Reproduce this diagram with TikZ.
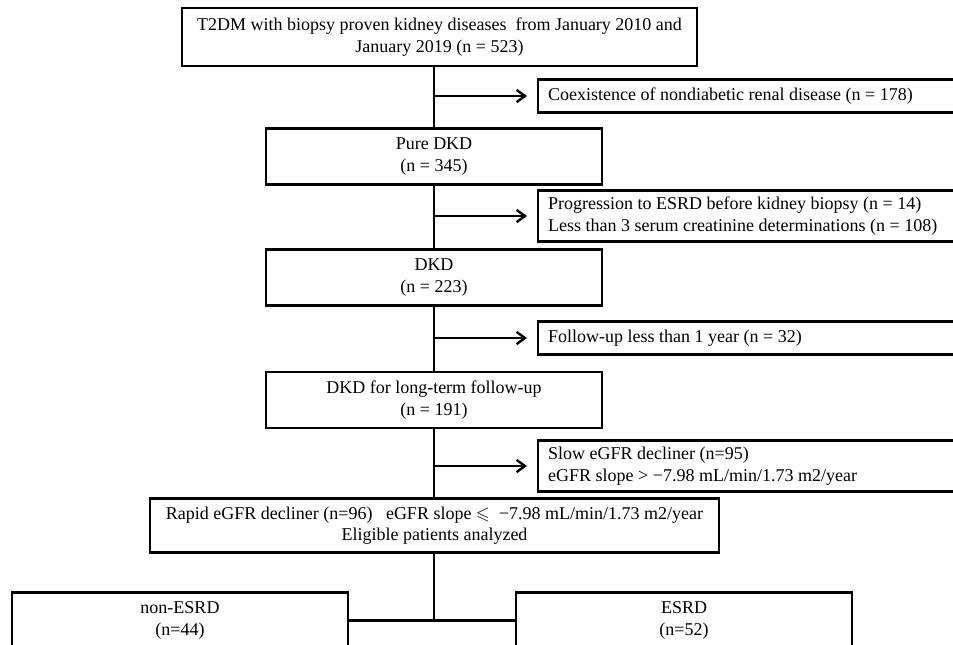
\documentclass[tikz,border=0pt]{standalone}
\usepackage{fontspec}
\setmainfont{Liberation Serif}
\usepackage{amssymb}
\usetikzlibrary{arrows.meta,positioning}
\tikzset{
  font=\fontsize{13.5}{16.2}\selectfont,
  box/.style ={draw, line width=1.8pt, align=center, inner sep=0pt},
  main/.style={box, minimum width=252pt, minimum height=42pt},
  side/.style={box, anchor=west, align=flush left, inner xsep=7.5pt, text width=313.5pt},
  arr/.style ={-{Straight Barb[length=2.2mm,width=3.2mm]}, line width=1.8pt},
  link/.style={line width=1.8pt},
}
\begin{document}
\begin{tikzpicture}[x=0.75pt,y=-0.75pt]
  \clip (0,0) rectangle (953,644);
  % main column
  \node[box, minimum width=386.25pt, minimum height=43.5pt] (t2dm) at (439.5,37)
        {T2DM with biopsy proven kidney diseases~ from January 2010 and\\January 2019 (n = 523)};
  \node[main] (pure)  at (434,156.5) {Pure DKD\\(n = 345)};
  \node[main] (dkd)   at (434,277.5) {DKD\\(n = 223)};
  \node[main] (long)  at (434,400)   {DKD for long-term follow-up\\(n = 191)};
  \node[box, minimum width=426.75pt, minimum height=40.5pt] (rapid) at (434.5,525.5)
        {Rapid eGFR decliner (n=96)~~ eGFR slope $\leqslant$~ −7.98 mL/min/1.73 m2/year\\Eligible patients analyzed};
  \node[main] (noesrd) at (180,620.5) {non-ESRD\\(n=44)};
  \node[main] (esrd)   at (684,620.5) {ESRD\\(n=52)};
  % exclusions
  \node[side, minimum height=24.75pt] (coex)   at (537,96)   {Coexistence of nondiabetic renal disease (n = 178)};
  \node[side, minimum height=38.25pt] (prog)   at (537,216)  {Progression to ESRD before kidney biopsy (n = 14)\\Less than 3 serum creatinine determinations (n = 108)};
  \node[side, minimum height=24.75pt] (fup)    at (537,338)  {Follow-up less than 1 year (n = 32)};
  \node[side, minimum height=38.25pt] (slow)   at (537,466)  {Slow eGFR decliner (n=95)\\eGFR slope > −7.98 mL/min/1.73 m2/year};

  \draw[link] (pure.north |- t2dm.south) -- (pure.north);
  \draw[link] (pure) -- (dkd);
  \draw[link] (dkd) -- (long);
  \draw[link] (long.south) -- (long.south |- rapid.north);
  \draw[link] (long.south |- rapid.south) -- (long.south |- noesrd.east);
  \draw[link] (noesrd.east) -- (esrd.west);

  \draw[arr] (pure.north |- coex.west) -- ([xshift=-7.5pt]coex.west);
  \draw[arr] (pure.north |- prog.west) -- ([xshift=-7.5pt]prog.west);
  \draw[arr] (pure.north |- fup.west)  -- ([xshift=-7.5pt]fup.west);
  \draw[arr] (pure.north |- slow.west) -- ([xshift=-7.5pt]slow.west);
\end{tikzpicture}
\end{document}
